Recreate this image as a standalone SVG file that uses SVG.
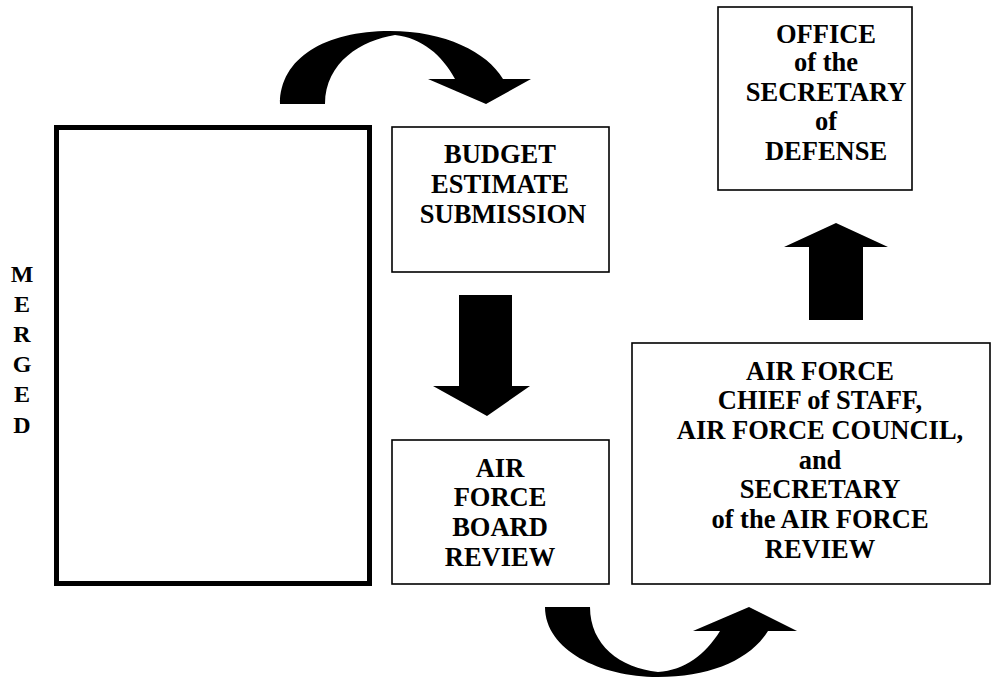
<svg xmlns="http://www.w3.org/2000/svg" width="997" height="682" viewBox="0 0 997 682">
<style>
.box{fill:#fff;stroke:#000;stroke-width:1.6}
.t{font-family:"Liberation Serif","Times New Roman",serif;font-weight:bold;font-size:26.5px;text-anchor:middle;fill:#000}
.m{font-size:24px}
.arr{fill:#000;stroke:none}
</style>
<rect width="997" height="682" fill="#fff"/>
<g id="merged">
<rect x="56.5" y="127.5" width="313" height="456" fill="#fff" stroke="#000" stroke-width="5"/>
<text class="t m"><tspan x="22" y="282">M</tspan><tspan x="22" y="312">E</tspan><tspan x="22" y="342">R</tspan><tspan x="22" y="372">G</tspan><tspan x="22" y="402">E</tspan><tspan x="22" y="433">D</tspan></text>
</g>
<g id="budget">
<rect class="box" x="392" y="127" width="217" height="145"/>
<text class="t"><tspan x="500" y="163">BUDGET</tspan><tspan x="500" y="193">ESTIMATE</tspan><tspan x="503" y="223">SUBMISSION</tspan></text>
</g>
<g id="board">
<rect class="box" x="392" y="440" width="217" height="144"/>
<text class="t"><tspan x="500" y="477">AIR</tspan><tspan x="500" y="506">FORCE</tspan><tspan x="500" y="536">BOARD</tspan><tspan x="500" y="566">REVIEW</tspan></text>
</g>
<g id="review">
<rect class="box" x="632" y="343" width="358" height="241"/>
<text class="t"><tspan x="820" y="380">AIR FORCE</tspan><tspan x="820" y="409">CHIEF of STAFF,</tspan><tspan x="820" y="439">AIR FORCE COUNCIL,</tspan><tspan x="820" y="469">and</tspan><tspan x="820" y="498">SECRETARY</tspan><tspan x="820" y="528">of the AIR FORCE</tspan><tspan x="820" y="558">REVIEW</tspan></text>
</g>
<g id="osd">
<rect class="box" x="718" y="7" width="194" height="183"/>
<text class="t"><tspan x="826" y="43">OFFICE</tspan><tspan x="826" y="71">of the</tspan><tspan x="826" y="101">SECRETARY</tspan><tspan x="826" y="130">of</tspan><tspan x="826" y="160">DEFENSE</tspan></text>
</g>
<g id="connectors">
<path class="arr" d="M280,104 C280,58 325,31 390,31 C445,31 487,52 503,79 L531,79 L486,104 L428,79 L455,79 C442,55 422,38 395,35 C362,40 325,62 325,104 Z"/>
<path class="arr" d="M459,295 L512,295 L512,386 L530,386 L487,416 L433,386 L459,386 Z"/>
<path class="arr" d="M545,607 C545,650 600,677 658,677 C710,677 750,660 768,631 L797,631 L749,607 L693,631 L720,631 C705,655 685,670 658,672 C620,668 590,645 590,607 Z"/>
<path class="arr" d="M809,320 L863,320 L863,247 L888,247 L836,223 L784,247 L809,247 Z"/>
</g>
</svg>
